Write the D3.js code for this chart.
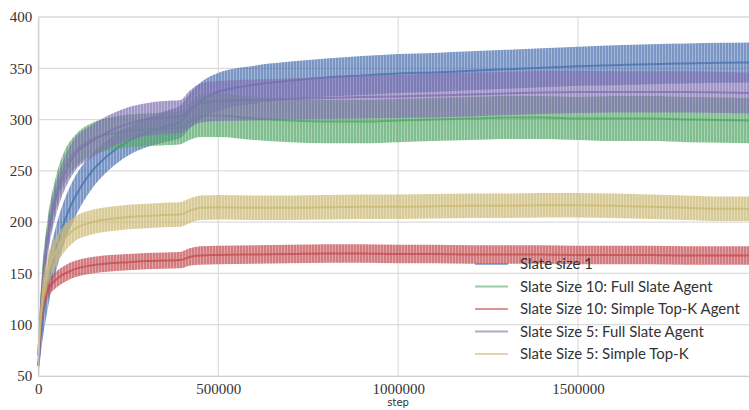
<!DOCTYPE html>
<html><head><meta charset="utf-8">
<script src="https://cdn.jsdelivr.net/npm/d3@7"></script>
<style>
html,body{margin:0;padding:0;background:#fff;}
svg{display:block;}
.serif{font-family:"Liberation Serif","DejaVu Serif","Times New Roman",Times,serif;}
</style></head>
<body>
<svg id="chart" width="749" height="410"></svg>
<script>
// ---- data ----
const steps = [0,10000,25000,50000,75000,100000,150000,200000,250000,300000,350000,395000,420000,450000,500000,600000,700000,800000,900000,1000000,1100000,1200000,1300000,1400000,1500000,1600000,1700000,1800000,1900000,1975000];

const seriesNames = ["Slate size 1","Slate Size 10: Full Slate Agent","Slate Size 10: Simple Top-K Agent","Slate Size 5: Full Slate Agent","Slate Size 5: Simple Top-K"];

const slate1Mean = [60,100,135,175,203,223,250,267,279,287,293,298,308,318,327,334,338,341,343,345,346,347.5,349,350.5,352,353,354,354.7,355.3,355.7];
const slate1Err  = [10,20,22,22,21,20,17,15,14,14,15,16,17,18,18.5,18.5,18.5,18.5,19,19,19,19,19,19,19,19.5,19.5,19.5,19.5,19.5];

const full10Mean = [70,135,185,230,255,268,281,286,289,290,291,292,298,303,304,301,299,298,298,299,300,301,302,302,301,301,301,300,299.5,299];
const full10Err  = [10,15,16,16,16,16,16,16,16,16,16,16,18,20,21,21,21,21,21,21,21,21,21,21,21,22,22,22,22,22];

const topk10Mean = [60,110,133,144,150,154,158,160,161,162,162.5,163,166,167.5,168,168.5,169,169.5,169.5,169,169,168.5,168.5,168.5,168,168,168,167.5,167.5,167.5];
const topk10Err  = [5,7,8,8,8,8,8,8,8,8,8,8,8.5,9,9,9,9,9,9,9,9,9,9,9,9,9,9,9,9,9];

const full5Mean  = [70,130,180,224,249,265,279,289,296,300,302,303,310,316,318,319,320,321,322,322.5,323.5,324.5,325.5,326.5,327,327,327,327,326.5,326];
const full5Err   = [10,15,16,16,16,16,16,16,16,16,16,16,18,19,19.5,20,20,20.5,21,21,21.5,21.5,21,21,20.5,20,20,20,20,20];

const topk5Mean  = [70,120,150,172,185,193,200,203,205,206,207,207.5,211,214,214.5,214,214,214.5,215,215,215.5,216,216,216.5,216.5,216,215,214,213,213];
const topk5Err   = [8,14,15,14,13,12,12,12,12,12,12,12,12,12,12,12,12,12,12,12,12,12,12,12,12,12,12,12,12,12];

const yTicks = [50,100,150,200,250,300,350,400];
const xTicks = [0,500000,1000000,1500000];
const colors = ["#4C72B0","#55A868","#C44E52","#8172B2","#CCB974"];

const means = [slate1Mean, full10Mean, topk10Mean, full5Mean, topk5Mean];
const errs  = [slate1Err, full10Err, topk10Err, full5Err, topk5Err];

// ---- layout ----
const svg = d3.select("#chart");
const x = d3.scaleLinear().domain([0,1975000]).range([38.3,749]);
const y = d3.scaleLinear().domain([50,400]).range([376,17]);

// grid
const g = svg.append("g");
g.selectAll(".hg").data(yTicks).enter().append("line")
  .attr("x1",38.3).attr("x2",749).attr("y1",d=>y(d)).attr("y2",d=>y(d))
  .attr("stroke","#dcdcdc").attr("stroke-width",1.2);
g.selectAll(".vg").data(xTicks).enter().append("line")
  .attr("y1",17).attr("y2",376).attr("x1",d=>x(d)).attr("x2",d=>x(d))
  .attr("stroke","#d6d6d6").attr("stroke-width",1);

// patterns (vertical error-bar striping)
const defs = svg.append("defs");
colors.forEach((c,i)=>{
  const p = defs.append("pattern").attr("id","pat"+i).attr("patternUnits","userSpaceOnUse")
    .attr("width",3).attr("height",20);
  p.append("rect").attr("x",0).attr("y",0).attr("width",2).attr("height",20).attr("fill",c).attr("fill-opacity",0.74);
  p.append("rect").attr("x",2).attr("y",0).attr("width",1).attr("height",20).attr("fill",c).attr("fill-opacity",0.5);
});

const area = d3.area().x((d,i)=>x(steps[i])).curve(d3.curveMonotoneX);
const line = d3.line().x((d,i)=>x(steps[i])).curve(d3.curveMonotoneX);

const plot = svg.append("g");
means.forEach((m,k)=>{
  const e = errs[k];
  plot.append("path").datum(m)
    .attr("d", area.y0((d,i)=>y(d - e[i])).y1((d,i)=>y(d + e[i])))
    .attr("fill","url(#pat"+k+")");
  plot.append("path").datum(m)
    .attr("d", line.y((d)=>y(d)))
    .attr("fill","none").attr("stroke",colors[k]).attr("stroke-width",2).attr("stroke-opacity",0.8);
});

// axes
const yAxis = svg.append("g").attr("transform","translate(38.3,0)")
  .call(d3.axisLeft(y).tickValues(yTicks).tickSize(0).tickPadding(6));
const xAxis = svg.append("g").attr("transform","translate(0,376)")
  .call(d3.axisBottom(x).tickValues(xTicks).tickFormat(d3.format("d")).tickSize(0).tickPadding(7));
[yAxis,xAxis].forEach(a=>{
  a.attr("font-family",null).attr("font-size",null).classed("serif",true);
  a.select(".domain").attr("stroke","#cfcfcf").attr("stroke-width",1.2);
  a.selectAll("text").attr("font-size",15).attr("fill","#333");
});
svg.append("line").attr("x1",38.3).attr("x2",749).attr("y1",17).attr("y2",17).attr("stroke","#d6d6d6");

svg.append("text").attr("x",x(1000000)).attr("y",406).attr("text-anchor","middle")
  .attr("font-family","'DejaVu Sans',sans-serif").attr("font-size",10).attr("fill","#333").text("step");

// legend
const leg = svg.append("g");
const rowY = d3.scalePoint().domain(seriesNames).range([264,354]);
seriesNames.forEach((n,k)=>{
  leg.append("line").attr("x1",475).attr("x2",508).attr("y1",rowY(n)).attr("y2",rowY(n))
    .attr("stroke",colors[k]).attr("stroke-width",2).attr("stroke-opacity",0.6);
  leg.append("text").attr("x",520).attr("y",rowY(n)+5)
    .attr("font-family","Lato, 'Open Sans', sans-serif").attr("font-size",14).attr("fill","#333").text(n)
    .attr("class","legtext");
});
const texts = leg.selectAll(".legtext").nodes();
const maxW = d3.max(texts, t=>t.getComputedTextLength());
if (maxW > 0) {
  const fs = 14 * 220 / maxW;
  leg.selectAll(".legtext").attr("font-size", fs);
}
</script>
</body></html>
